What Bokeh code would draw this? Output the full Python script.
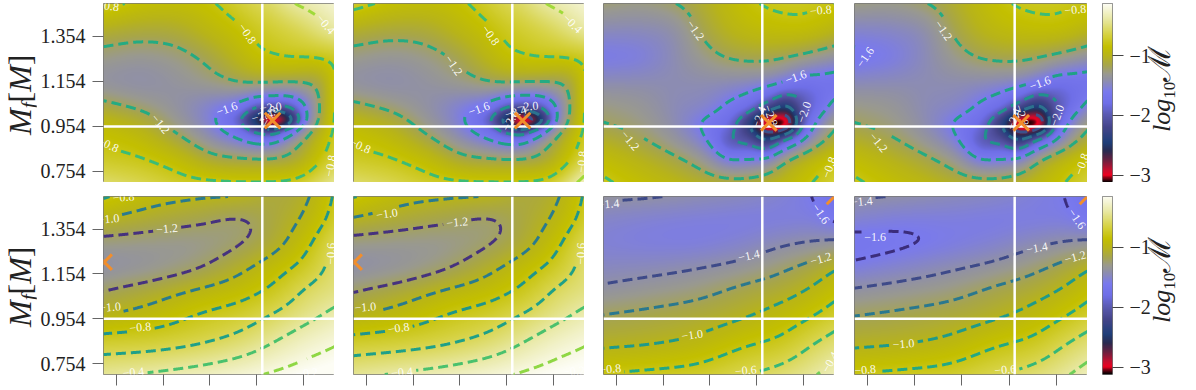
import numpy as np
from bokeh.core.properties import value
from bokeh.embed import file_html
from bokeh.layouts import column, row
from bokeh.models import Div, FixedTicker, LinearColorMapper
from bokeh.plotting import figure
from bokeh.plotting.contour import contour_data
from bokeh.resources import INLINE

# ------------------------------ data ------------------------------
x_ticks = [0.50, 0.55, 0.60, 0.65, 0.70]
y_ticks = [0.754, 0.954, 1.154, 1.354]
y_tick_labels = ["0.754", "0.954", "1.154", "1.354"]
cbar_ticks = [-1, -2, -3]
cbar_tick_labels = ["\u22121", "\u22122", "\u22123"]
truth_x, truth_y = 0.656, 0.954
x_lim = (0.486, 0.7333)
y_lim = (0.705, 1.5)
z_lim = (-3.117, -0.133)

# colour scale
cmap_values = [-3.117, -3.06, -3.0, -2.9, -2.75, -2.6, -2.45, -2.2, -2.0, -1.8, -1.6, -1.4, -1.3, -1.15, -1.0, -0.85, -0.65, -0.4, -0.133]
cmap_colors = ["#000000", "#600010", "#f00020", "#c01030", "#6a2040", "#2a2a50", "#1f3f7a", "#45458a", "#5a5ab0", "#6f6fe8",
               "#7a7aee", "#9090a8", "#9a9a8f", "#a8a64a", "#b8b41a", "#c4c000", "#d6d240", "#e8e8a0", "#fdfdf5"]

top_levels = [-2.8, -2.4, -2.0, -1.6, -1.2, -0.8, -0.4]
top_colors = ["#3b528b", "#2c728e", "#21918c", "#1fa187", "#25ab82", "#3cbc75", "#a0da39"]
bot_a_levels = [-1.2, -1.0, -0.8, -0.6, -0.4, -0.2]
bot_a_colors = ["#46327e", "#2a7b8e", "#1f968b", "#1fa088", "#4ac16d", "#8fd744"]
bot_b_levels = [-1.6, -1.4, -1.2, -1.0, -0.8, -0.6, -0.4]
bot_b_colors = ["#3b2d7c", "#3e4a89", "#2a788e", "#1f9a8a", "#22a884", "#35b779", "#6ece58"]

# field nodes, Mf listed from top to bottom
p12_x = [.486, .5255, .5649, .6044, .6330, .6510, .6671, .6832, .7010, .7190, .7333]
p12_y = [1.5, 1.381, 1.262, 1.143, 1.039, .980, .920, .816, .705]
p1_z = [
    [-0.72, -0.85, -0.88, -0.81, -0.68, -0.60, -0.55, -0.43, -0.36, -0.30, -0.25],
    [-1.05, -1.10, -1.08, -0.93, -0.83, -0.75, -0.70, -0.65, -0.58, -0.48, -0.40],
    [-1.28, -1.32, -1.27, -1.12, -0.95, -0.85, -0.82, -0.79, -0.79, -0.78, -0.75],
    [-1.37, -1.40, -1.36, -1.28, -1.21, -1.20, -1.22, -1.23, -1.22, -1.15, -0.82],
    [-1.12, -1.24, -1.38, -1.55, -1.72, -2.00, -2.10, -2.02, -1.65, -1.15, -0.80],
    [-0.95, -1.08, -1.33, -1.60, -2.00, -2.60, -3.05, -2.60, -1.72, -1.12, -0.80],
    [-0.85, -0.95, -1.20, -1.50, -1.72, -1.95, -2.00, -1.62, -1.25, -0.95, -0.75],
    [-0.75, -0.80, -0.92, -1.15, -1.20, -1.22, -1.22, -1.18, -1.05, -0.82, -0.68],
    [-0.55, -0.62, -0.72, -0.77, -0.79, -0.79, -0.79, -0.77, -0.70, -0.55, -0.45],
]
p2_z = [
    [-0.72, -0.85, -0.89, -0.82, -0.69, -0.60, -0.55, -0.44, -0.36, -0.30, -0.25],
    [-1.05, -1.11, -1.09, -0.94, -0.83, -0.75, -0.70, -0.65, -0.58, -0.48, -0.40],
    [-1.29, -1.33, -1.28, -1.13, -0.95, -0.85, -0.82, -0.79, -0.79, -0.78, -0.75],
    [-1.38, -1.41, -1.37, -1.29, -1.22, -1.21, -1.23, -1.24, -1.23, -1.16, -0.82],
    [-1.13, -1.25, -1.39, -1.56, -1.73, -2.00, -2.12, -2.03, -1.66, -1.16, -0.80],
    [-0.95, -1.09, -1.34, -1.61, -2.00, -2.60, -3.05, -2.62, -1.73, -1.12, -0.80],
    [-0.85, -0.96, -1.21, -1.51, -1.73, -1.96, -2.02, -1.63, -1.26, -0.95, -0.75],
    [-0.75, -0.80, -0.93, -1.16, -1.21, -1.23, -1.23, -1.19, -1.05, -0.82, -0.65],
    [-0.55, -0.62, -0.72, -0.78, -0.79, -0.79, -0.79, -0.77, -0.70, -0.48, -0.30],
]
p34_x = [.486, .5254, .5647, .5951, .6202, .6417, .6614, .6811, .7008, .7187, .7333]
p34_y = [1.5, 1.381, 1.262, 1.143, 1.039, .965, .891, .802, .705]
p3_z = [
    [-1.25, -1.28, -1.20, -1.05, -0.92, -0.83, -0.78, -0.76, -0.76, -0.79, -0.80],
    [-1.45, -1.45, -1.38, -1.14, -1.00, -0.93, -0.90, -0.88, -0.88, -0.92, -0.98],
    [-1.58, -1.55, -1.42, -1.28, -1.18, -1.15, -1.15, -1.19, -1.25, -1.32, -1.37],
    [-1.42, -1.42, -1.43, -1.43, -1.45, -1.48, -1.53, -1.65, -1.75, -1.72, -1.72],
    [-1.27, -1.33, -1.45, -1.50, -1.65, -1.85, -2.20, -2.45, -2.00, -1.72, -1.50],
    [-1.20, -1.28, -1.45, -1.65, -1.85, -2.35, -3.05, -3.00, -1.95, -1.45, -1.25],
    [-1.05, -1.17, -1.37, -1.58, -1.95, -2.10, -2.35, -1.95, -1.55, -1.25, -1.10],
    [-0.88, -1.00, -1.15, -1.33, -1.58, -1.55, -1.50, -1.18, -1.00, -0.88, -0.80],
    [-0.77, -0.88, -0.98, -1.07, -1.12, -1.12, -1.05, -0.95, -0.85, -0.75, -0.68],
]
p4_z = [
    [-1.27, -1.29, -1.20, -1.05, -0.92, -0.83, -0.78, -0.76, -0.76, -0.79, -0.80],
    [-1.50, -1.48, -1.39, -1.14, -1.00, -0.93, -0.90, -0.88, -0.88, -0.92, -0.98],
    [-1.63, -1.57, -1.43, -1.28, -1.18, -1.15, -1.15, -1.19, -1.25, -1.32, -1.37],
    [-1.44, -1.43, -1.43, -1.43, -1.45, -1.48, -1.53, -1.65, -1.76, -1.74, -1.73],
    [-1.28, -1.33, -1.45, -1.50, -1.65, -1.85, -2.20, -2.45, -2.02, -1.73, -1.52],
    [-1.20, -1.28, -1.45, -1.65, -1.85, -2.35, -3.05, -3.00, -1.95, -1.45, -1.25],
    [-1.05, -1.17, -1.37, -1.58, -1.95, -2.10, -2.35, -1.95, -1.55, -1.25, -1.10],
    [-0.88, -1.00, -1.15, -1.33, -1.58, -1.55, -1.50, -1.18, -1.00, -0.88, -0.80],
    [-0.77, -0.88, -0.98, -1.07, -1.12, -1.12, -1.05, -0.95, -0.85, -0.75, -0.68],
]
p56_x = [.486, .5362, .5864, .6365, .6723, .7046, .7333]
p56_y = [1.5, 1.393, 1.289, 1.184, 1.080, .976, .872, .705]
p5_z = [
    [-0.78, -0.92, -0.98, -1.02, -1.12, -1.02, -0.78],
    [-1.02, -1.10, -1.17, -1.22, -1.10, -0.95, -0.72],
    [-1.28, -1.30, -1.30, -1.20, -1.05, -0.83, -0.58],
    [-1.40, -1.33, -1.22, -1.03, -0.87, -0.72, -0.53],
    [-1.20, -1.10, -0.98, -0.87, -0.74, -0.57, -0.49],
    [-1.02, -0.93, -0.80, -0.70, -0.58, -0.46, -0.36],
    [-0.76, -0.73, -0.66, -0.55, -0.42, -0.31, -0.24],
    [-0.43, -0.38, -0.32, -0.24, -0.17, -0.12, -0.09],
]
p6_z = [
    [-0.79, -0.93, -0.98, -1.02, -1.12, -1.02, -0.78],
    [-1.03, -1.11, -1.18, -1.22, -1.10, -0.95, -0.72],
    [-1.29, -1.31, -1.30, -1.20, -1.05, -0.83, -0.58],
    [-1.41, -1.34, -1.22, -1.03, -0.87, -0.72, -0.53],
    [-1.21, -1.11, -0.98, -0.87, -0.74, -0.57, -0.49],
    [-1.03, -0.93, -0.80, -0.70, -0.58, -0.46, -0.36],
    [-0.77, -0.73, -0.66, -0.55, -0.42, -0.31, -0.24],
    [-0.44, -0.38, -0.32, -0.24, -0.17, -0.12, -0.09],
]
p78_x = [.486, .5361, .5862, .6363, .6792, .7097, .7333]
p78_y = [1.5, 1.393, 1.289, 1.184, 1.080, .976, .872, .705]
p7_z = [
    [-1.37, -1.39, -1.43, -1.47, -1.53, -1.60, -1.72],
    [-1.50, -1.53, -1.55, -1.56, -1.55, -1.55, -1.62],
    [-1.53, -1.55, -1.55, -1.50, -1.42, -1.38, -1.35],
    [-1.47, -1.45, -1.41, -1.34, -1.23, -1.13, -1.02],
    [-1.37, -1.32, -1.26, -1.15, -1.07, -0.97, -0.87],
    [-1.20, -1.16, -1.11, -1.03, -0.92, -0.82, -0.72],
    [-1.08, -1.05, -0.99, -0.87, -0.78, -0.65, -0.56],
    [-0.79, -0.76, -0.72, -0.61, -0.52, -0.42, -0.32],
]
p8_z = [
    [-1.38, -1.41, -1.45, -1.49, -1.55, -1.60, -1.72],
    [-1.52, -1.56, -1.56, -1.57, -1.56, -1.56, -1.62],
    [-1.66, -1.62, -1.57, -1.51, -1.43, -1.38, -1.35],
    [-1.56, -1.50, -1.43, -1.35, -1.24, -1.13, -1.02],
    [-1.38, -1.33, -1.27, -1.16, -1.07, -0.97, -0.87],
    [-1.21, -1.17, -1.12, -1.04, -0.93, -0.82, -0.72],
    [-1.08, -1.05, -0.99, -0.87, -0.78, -0.65, -0.56],
    [-0.79, -0.76, -0.72, -0.61, -0.52, -0.42, -0.32],
]

# best-fit markers
p1_best = (0.667, 0.98)
p2_best = (0.667, 0.98)
p3_best = (0.663, 0.97)
p4_best = (0.663, 0.97)
p5_best = (0.4867, 1.207)
p6_best = (0.4867, 1.207)
p7_best = (0.7333, 1.5)
p8_best = (0.7333, 1.5)

# contour labels: level, x, y, angle
p1_labels = [(-0.8, .640, 1.366, -55), (-0.4, .724, 1.408, -50), (-0.8, .491, .873, -25), (-0.8, .491, 1.49, -8),
             (-0.8, .729, .779, 80), (-1.2, .547, .965, -50), (-1.6, .618, 1.032, 20), (-2.0, .665, 1.039, 5),
             (-2.4, .656, 1.0, 15), (-2.8, .664, 1.0, 60)]
p2_labels = [(-0.8, .6328, 1.359, -55), (-0.4, .7205, 1.411, -45), (-0.8, .4932, .868, -25), (-1.2, .5934, 1.225, -55),
             (-0.8, .7305, .797, 85), (-1.6, .6203, 1.032, 20), (-2.0, .6722, 1.043, 5),
             (-2.4, .6596, 1.018, 15), (-2.8, .654, .98, 60)]
p3_labels = [(-1.2, .5845, 1.381, -55), (-0.8, .7187, 1.470, 5), (-1.2, .5146, .891, -50), (-1.6, .6919, 1.173, 20),
             (-2.0, .7008, 1.017, 70), (-2.4, .6525, .995, 70), (-2.8, .665, 1.002, -70), (-0.8, .7277, .772, 70)]
p4_labels = [(-1.6, .4973, 1.262, 55), (-1.2, .5805, 1.38, -55), (-1.2, .5115, .883, -50), (-1.6, .683, 1.146, 20),
             (-2.0, .701, 1.003, 70), (-2.4, .655, .987, 70), (-2.8, .6637, 1.003, -70), (-0.8, .7203, 1.473, 5),
             (-0.8, .7273, .787, 70)]
p5_labels = [(-0.8, .5075, 1.497, 5), (-1.0, .4914, 1.40, 5), (-1.2, .554, 1.356, 5), (-1.0, .493, 1.006, 5),
             (-0.8, .5254, .916, 5), (-0.4, .518, .715, 5), (-0.6, .7294, 1.244, 88), (-0.2, .704, .712, 5)]
p6_labels = [(-1.0, .5218, 1.4226, 8), (-1.2, .597, 1.385, 5), (-1.0, .4985, 1.006, 5),
             (-0.8, .5343, .913, 8), (-0.4, .5379, .715, 5), (-0.6, .7294, 1.244, 88), (-0.2, .722, .72, 5)]
p7_labels = [(-1.4, .4914, 1.467, 5), (-1.6, .7187, 1.423, -55), (-1.4, .6417, 1.236, 12), (-1.2, .7187, 1.222, 15),
             (-1.0, .5809, .882, 8), (-0.8, .4932, .73, 5), (-0.6, .6382, .723, 5), (-0.4, .7287, .76, 60)]
p8_labels = [(-1.4, .4938, 1.478, 5), (-1.6, .508, 1.321, 0), (-1.6, .7221, 1.4, -55), (-1.4, .6796, 1.27, 10),
             (-1.2, .7203, 1.229, 15), (-1.0, .538, .842, 5), (-0.8, .4973, .726, 5), (-0.6, .646, .727, 5)]

# ------------------------------ helpers ------------------------------
SERIF = "Liberation Serif"


def hex_rgb(c):
    return [int(c[i:i + 2], 16) for i in (1, 3, 5)]


def build_palette(n=512):
    q = np.linspace(z_lim[0], z_lim[1], n)
    rgb = np.array([hex_rgb(c) for c in cmap_colors], float)
    chans = [np.interp(q, cmap_values, rgb[:, k]) for k in range(3)]
    return ["#%02x%02x%02x" % (int(r), int(g), int(b)) for r, g, b in zip(*chans)]


def hermite(xn, zn, xq):
    """Smooth resampling of a field along its first axis, for drawing."""
    xn = np.asarray(xn, float)
    zn = np.asarray(zn, float)
    h = np.diff(xn)
    d = np.diff(zn, axis=0) / h[:, None]
    m = np.zeros_like(zn)
    m[0], m[-1] = d[0], d[-1]
    for i in range(1, len(xn) - 1):
        a, b = h[i - 1], h[i]
        m[i] = (b * d[i - 1] + a * d[i]) / (a + b)
    idx = np.clip(np.searchsorted(xn, xq) - 1, 0, len(h) - 1)
    t = ((xq - xn[idx]) / h[idx])[:, None]
    hh = h[idx][:, None]
    return ((2 * t**3 - 3 * t**2 + 1) * zn[idx] + (t**3 - 2 * t**2 + t) * hh * m[idx]
            + (-2 * t**3 + 3 * t**2) * zn[idx + 1] + (t**3 - t**2) * hh * m[idx + 1])


def blur(a, sigma):
    """Separable blur with reflected edges."""
    r = int(3 * sigma)
    k = np.arange(-r, r + 1)
    k = np.exp(-0.5 * (k / sigma) ** 2)
    k /= k.sum()
    for axis in (0, 1):
        a = np.apply_along_axis(lambda v: np.convolve(np.pad(v, r, mode="reflect", reflect_type="odd"), k, mode="valid"), axis, a)
    return a


def resample(xn, yn_top_down, z, nx, ny):
    yn = np.array(yn_top_down)[::-1]
    zz = np.array(z, float)[::-1]
    qx = np.linspace(x_lim[0], x_lim[1], nx)
    qy = np.linspace(y_lim[0], y_lim[1], ny)
    zy = hermite(yn, zz, qy)
    out = hermite(xn, zy.T, qx).T
    soft = blur(out, 16.0)
    core = blur(out, 5.0)
    w = np.clip((-core - 1.45) / 0.4, 0, 1)
    return qx, qy, np.clip(w * core + (1 - w) * soft, z_lim[0], z_lim[1])


def minus(v):
    return "\u2212%.1f" % abs(v)


def panel(xn, yn, z, levels, colors, labels, best, fw, fh, left, top, bottom, show_y, show_x):
    p = figure(frame_width=fw, frame_height=fh, x_range=x_lim, y_range=y_lim, output_backend="svg", toolbar_location=None,
               min_border_left=left, min_border_right=0, min_border_top=top, min_border_bottom=bottom)
    p.grid.visible = False
    p.outline_line_color = "#777777"
    p.outline_line_width = 1
    for ax, show in ((p.xaxis, show_x), (p.yaxis, show_y)):
        ax.visible = show
        ax.axis_line_color = None
        ax.minor_tick_line_color = None
        ax.major_tick_in = 0
        ax.major_tick_out = 11
        ax.major_tick_line_color = "#666666"
        ax.major_tick_line_width = 1
    p.xaxis.ticker = FixedTicker(ticks=x_ticks)
    p.xaxis.major_label_overrides = {t: "" for t in x_ticks}
    p.xaxis.major_label_standoff = 0
    p.yaxis.ticker = FixedTicker(ticks=y_ticks)
    p.yaxis.major_label_overrides = dict(zip(y_ticks, y_tick_labels))
    p.yaxis.major_label_text_font = SERIF
    p.yaxis.major_label_text_font_size = "20px"
    p.yaxis.major_label_text_color = "#222222"
    p.yaxis.major_label_standoff = 7

    qx, qy, field = resample(xn, yn, z, fw * 2, fh * 2)
    mapper = LinearColorMapper(palette=build_palette(), low=z_lim[0], high=z_lim[1])
    p.image(image=[field], x=x_lim[0], y=y_lim[0], dw=x_lim[1] - x_lim[0], dh=y_lim[1] - y_lim[0], color_mapper=mapper)

    sx = fw / (x_lim[1] - x_lim[0])
    sy = fh / (y_lim[1] - y_lim[0])
    line = contour_data(qx, qy, field, levels, want_fill=False, want_line=True).line_data
    xs, ys = [], []
    for lev, lx, ly in zip(levels, line.xs, line.ys):
        lx = np.array(lx, float)
        ly = np.array(ly, float)
        for (l, tx, ty, _a) in labels:
            if l == lev:
                near = np.hypot((lx - tx) * sx, (ly - ty) * sy) < 14
                lx[near] = np.nan
                ly[near] = np.nan
        xs.append(lx)
        ys.append(ly)
    p.multi_line(xs=xs, ys=ys, line_color=colors, line_width=3, line_dash="10 5")

    p.text(x=[t[1] for t in labels], y=[t[2] for t in labels], text=[minus(t[0]) for t in labels],
           angle=[t[3] for t in labels], angle_units="deg", text_color="white", text_font=value(SERIF),
           text_font_size="12px", text_align="center", text_baseline="middle", text_alpha=0.95)

    p.segment(x0=[truth_x, x_lim[0]], y0=[y_lim[0], truth_y], x1=[truth_x, x_lim[1]], y1=[y_lim[1], truth_y],
              line_color="white", line_width=2.5)
    p.scatter(x=[best[0]], y=[best[1]], marker="x", size=22, line_color="#f28e2b", line_width=3)
    return p


def rotated_label(html, size, width, height, left, top):
    span = (f"<span style=\"position:absolute;left:{left}px;top:{top}px;transform-origin:0 0;transform:rotate(-90deg);"
            f"white-space:nowrap;line-height:1;font-family:'{SERIF}';font-size:{size}px;color:#222222\">{html}</span>")
    return Div(text=span, width=width, height=height, margin=0, styles={"position": "relative", "overflow": "visible"})


def cbar(fh, top, bottom):
    low = z_lim[0]
    high = -0.15 if fh == 178 else z_lim[1]
    p = figure(frame_width=10, frame_height=fh, x_range=(0, 1), y_range=(low, high), y_axis_location="right",
               output_backend="svg", toolbar_location=None, min_border_left=15, min_border_right=43,
               min_border_top=top, min_border_bottom=bottom)
    p.grid.visible = False
    p.xaxis.visible = False
    p.outline_line_color = "#777777"
    ax = p.yaxis
    ax.ticker = FixedTicker(ticks=cbar_ticks)
    ax.major_label_overrides = dict(zip(cbar_ticks, cbar_tick_labels))
    ax.axis_line_color = None
    ax.minor_tick_line_color = None
    ax.major_tick_in = 0
    ax.major_tick_out = 11
    ax.major_tick_line_color = "#444444"
    ax.major_label_text_font = SERIF
    ax.major_label_text_font_size = "20px"
    ax.major_label_text_color = "#222222"
    ax.major_label_standoff = 6
    grad = np.linspace(low, high, 256)[:, None]
    mapper = LinearColorMapper(palette=build_palette(), low=z_lim[0], high=z_lim[1])
    p.image(image=[grad], x=0, y=low, dw=1, dh=high - low, color_mapper=mapper)
    return p


top_args = dict(fh=179, top=3, bottom=0)
bot_args = dict(fh=178, top=14, bottom=14)

p1 = panel(p12_x, p12_y, p1_z, top_levels, top_colors, p1_labels, p1_best, 231, left=67, show_y=True, show_x=False, **top_args)
p2 = panel(p12_x, p12_y, p2_z, top_levels, top_colors, p2_labels, p2_best, 231, left=19, show_y=False, show_x=False, **top_args)
p3 = panel(p34_x, p34_y, p3_z, top_levels, top_colors, p3_labels, p3_best, 231, left=19, show_y=False, show_x=False, **top_args)
p4 = panel(p34_x, p34_y, p4_z, top_levels, top_colors, p4_labels, p4_best, 233, left=20, show_y=False, show_x=False, **top_args)
p5 = panel(p56_x, p56_y, p5_z, bot_a_levels, bot_a_colors, p5_labels, p5_best, 231, left=67, show_y=True, show_x=True, **bot_args)
p6 = panel(p56_x, p56_y, p6_z, bot_a_levels, bot_a_colors, p6_labels, p6_best, 231, left=19, show_y=False, show_x=True, **bot_args)
p7 = panel(p78_x, p78_y, p7_z, bot_b_levels, bot_b_colors, p7_labels, p7_best, 231, left=19, show_y=False, show_x=True, **bot_args)
p8 = panel(p78_x, p78_y, p8_z, bot_b_levels, bot_b_colors, p8_labels, p8_best, 233, left=20, show_y=False, show_x=True, **bot_args)
c1 = cbar(179, 3, 0)
c2 = cbar(178, 14, 14)

mf_html = "<i>M</i><i style='font-size:21px;line-height:0;position:relative;top:0.25em'>f</i>[<i>M</i>]"
lg_html = ("<i>log</i><span style='font-size:17px;line-height:0;position:relative;top:0.3em'>10</span>"
           "<span style=\"font-family:'DejaVu Serif';font-size:31px;line-height:0\">\u2133</span>")
l1 = rotated_label(mf_html, 32, 36, 182, 4, 135)
l2 = rotated_label(mf_html, 32, 36, 206, 4, 145)
r1 = rotated_label(lg_html, 26, 41, 182, -6, 132)
r2 = rotated_label(lg_html, 26, 41, 206, -6, 141)

page = column(row(l1, p1, p2, p3, p4, c1, r1, spacing=0), row(l2, p5, p6, p7, p8, c2, r2, spacing=0), spacing=0,
              styles={"position": "absolute", "left": "0px", "top": "0px"})

open("out.html", "w").write(file_html(page, INLINE))
